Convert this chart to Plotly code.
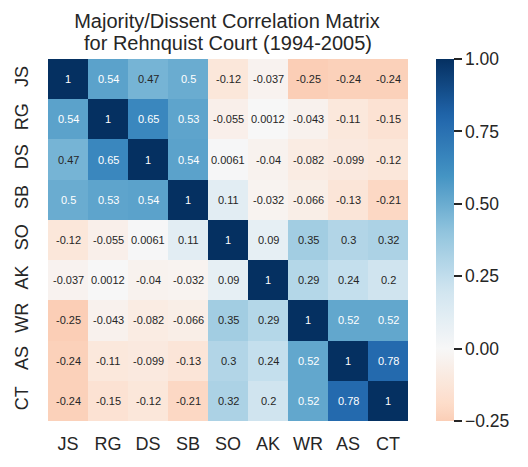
import plotly.graph_objects as go

justices = ["JS", "RG", "DS", "SB", "SO", "AK", "WR", "AS", "CT"]

row_JS = [1, 0.54, 0.47, 0.5, -0.12, -0.037, -0.25, -0.24, -0.24]
row_RG = [0.54, 1, 0.65, 0.53, -0.055, 0.0012, -0.043, -0.11, -0.15]
row_DS = [0.47, 0.65, 1, 0.54, 0.0061, -0.04, -0.082, -0.099, -0.12]
row_SB = [0.5, 0.53, 0.54, 1, 0.11, -0.032, -0.066, -0.13, -0.21]
row_SO = [-0.12, -0.055, 0.0061, 0.11, 1, 0.09, 0.35, 0.3, 0.32]
row_AK = [-0.037, 0.0012, -0.04, -0.032, 0.09, 1, 0.29, 0.24, 0.2]
row_WR = [-0.25, -0.043, -0.082, -0.066, 0.35, 0.29, 1, 0.52, 0.52]
row_AS = [-0.24, -0.11, -0.099, -0.13, 0.3, 0.24, 0.52, 1, 0.78]
row_CT = [-0.24, -0.15, -0.12, -0.21, 0.32, 0.2, 0.52, 0.78, 1]

matrix = [row_JS, row_RG, row_DS, row_SB, row_SO, row_AK, row_WR, row_AS, row_CT]

colorbar_ticks = [-0.25, 0, 0.25, 0.5, 0.75, 1.0]

title_line1 = "Majority/Dissent Correlation Matrix"
title_line2 = "for Rehnquist Court (1994-2005)"

VMIN, VMAX, CENTER = -0.25, 1.0, 0.0

# matplotlib RdBu anchor colours
rdbu = ["#67001f", "#b2182b", "#d6604d", "#f4a582", "#fddbc7", "#f7f7f7",
        "#d1e5f0", "#92c5de", "#4393c3", "#2166ac", "#053061"]


def hex2rgb(h):
    h = h.lstrip("#")
    return tuple(int(h[i:i + 2], 16) for i in (0, 2, 4))


def cmap(p):
    p = min(max(p, 0.0), 1.0)
    f = p * 10
    i = min(int(f), 9)
    t = f - i
    a, b = hex2rgb(rdbu[i]), hex2rgb(rdbu[i + 1])
    return tuple(a[k] + (b[k] - a[k]) * t for k in range(3))


vrange = max(VMAX - CENTER, CENTER - VMIN)


def to_p(v):
    return (v - (CENTER - vrange)) / (2 * vrange)


def rgbstr(c):
    return "rgb(%d,%d,%d)" % tuple(round(x) for x in c)


# seaborn-style recentred colourscale
n = 40
colorscale = []
for k in range(n + 1):
    t = k / n
    v = VMIN + t * (VMAX - VMIN)
    colorscale.append([t, rgbstr(cmap(to_p(v)))])


def lum(c):
    out = []
    for x in c:
        x = x / 255
        out.append(x / 12.92 if x <= 0.03928 else ((x + 0.055) / 1.055) ** 2.4)
    return 0.2126 * out[0] + 0.7152 * out[1] + 0.0722 * out[2]


font = "Liberation Sans, Arial, sans-serif"
dark = "#262626"

fig = go.Figure()
fig.add_trace(go.Heatmap(
    z=matrix, x=justices, y=justices,
    zmin=VMIN, zmax=VMAX, colorscale=colorscale,
    xgap=0, ygap=0, hoverinfo="skip",
    colorbar=dict(
        thickness=18, len=1, lenmode="fraction", y=0.5, yanchor="middle",
        x=1.0773, xanchor="left", xpad=0, ypad=0, outlinewidth=0,
        tickvals=colorbar_ticks, tickformat=".2f", ticks="outside",
        ticklen=8, tickwidth=1.5, tickcolor=dark,
        tickfont=dict(family=font, size=17.5, color=dark),
    ),
))

annotations = []
for i, row in enumerate(matrix):
    for j, v in enumerate(row):
        c = cmap(to_p(v))
        col = dark if lum(c) > 0.408 else "white"
        annotations.append(dict(
            x=justices[j], y=justices[i], xref="x", yref="y",
            text="{:.2g}".format(v), showarrow=False,
            font=dict(family=font, size=11, color=col),
        ))

# second title line, placed with matplotlib-like line spacing
annotations.append(dict(
    text=title_line2, xref="paper", yref="paper",
    x=0.5, y=1 + (59 - 43) / 362, xanchor="center", yanchor="middle",
    showarrow=False, font=dict(family=font, size=20, color=dark),
))

fig.update_layout(
    width=528, height=467,
    margin=dict(l=46, r=120, t=59, b=46),
    paper_bgcolor="white", plot_bgcolor="white",
    title=dict(
        text=title_line1,
        x=(46 + 181) / 528, xanchor="center",
        y=1 - 21 / 467, yanchor="middle", yref="container",
        font=dict(family=font, size=20, color=dark),
    ),
    annotations=annotations,
    xaxis=dict(showgrid=False, zeroline=False, ticks="", showline=False,
               ticklabelstandoff=10,
               tickfont=dict(family=font, size=18, color=dark), constrain="domain"),
    yaxis=dict(showgrid=False, zeroline=False, ticks="", showline=False,
               autorange="reversed", tickangle=-90, ticklabelstandoff=15,
               tickfont=dict(family=font, size=18, color=dark)),
)

fig.write_html("out.html")
